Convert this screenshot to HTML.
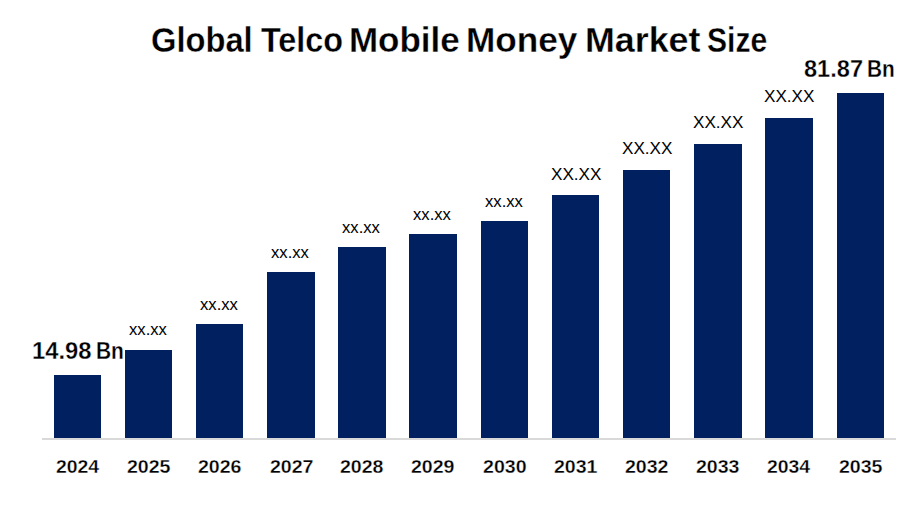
<!DOCTYPE html>
<html><head><meta charset="utf-8"><style>
html,body{margin:0;padding:0;background:#fff;}
body{width:900px;height:525px;position:relative;overflow:hidden;font-family:"Liberation Sans",sans-serif;color:#000;}
.t{position:absolute;white-space:nowrap;line-height:1;transform-origin:0 0;}
.b{font-weight:700;-webkit-text-stroke:0.3px #fff;}
.bar{position:absolute;background:#002060;}
.axis{position:absolute;left:42px;top:438px;width:854px;height:2px;background:#d9d9d9;}
</style></head><body>
<div class="axis"></div>
<div class="bar" style="left:54px;top:375px;width:47px;height:63px"></div>
<div class="bar" style="left:125px;top:350px;width:47px;height:88px"></div>
<div class="bar" style="left:196px;top:324px;width:47px;height:114px"></div>
<div class="bar" style="left:267px;top:272px;width:48px;height:166px"></div>
<div class="bar" style="left:338px;top:247px;width:48px;height:191px"></div>
<div class="bar" style="left:409px;top:234px;width:48px;height:204px"></div>
<div class="bar" style="left:481px;top:221px;width:47px;height:217px"></div>
<div class="bar" style="left:552px;top:195px;width:47px;height:243px"></div>
<div class="bar" style="left:623px;top:170px;width:47px;height:268px"></div>
<div class="bar" style="left:694px;top:144px;width:48px;height:294px"></div>
<div class="bar" style="left:765px;top:118px;width:48px;height:320px"></div>
<div class="bar" style="left:837px;top:93px;width:47px;height:345px"></div>
<div class="t" id="lbl1" style="left:128.86px;top:321.72px;font-size:16.90px;transform:scaleX(0.9851)">xx.xx</div>
<div class="t" id="lbl2" style="left:199.96px;top:296.67px;font-size:16.90px;transform:scaleX(0.9851)">xx.xx</div>
<div class="t" id="lbl3" style="left:271.06px;top:244.67px;font-size:16.90px;transform:scaleX(0.9851)">xx.xx</div>
<div class="t" id="lbl4" style="left:342.12px;top:219.67px;font-size:16.90px;transform:scaleX(0.9851)">xx.xx</div>
<div class="t" id="lbl5" style="left:413.23px;top:206.67px;font-size:16.90px;transform:scaleX(0.9851)">xx.xx</div>
<div class="t" id="lbl6" style="left:485.32px;top:193.67px;font-size:16.90px;transform:scaleX(0.9851)">xx.xx</div>
<div class="t" id="lbl7" style="left:550.85px;top:165.87px;font-size:17.10px;transform:scaleX(1.0017)">XX.XX</div>
<div class="t" id="lbl8" style="left:621.88px;top:139.87px;font-size:17.10px;transform:scaleX(1.0017)">XX.XX</div>
<div class="t" id="lbl9" style="left:692.94px;top:113.87px;font-size:17.10px;transform:scaleX(1.0017)">XX.XX</div>
<div class="t" id="lbl10" style="left:764.02px;top:87.87px;font-size:17.10px;transform:scaleX(1.0017)">XX.XX</div>
<div class="t b" id="y0" style="left:55.55px;top:456.75px;font-size:19.10px;transform:scaleX(1.0160)">2024</div>
<div class="t b" id="y1" style="left:126.61px;top:456.75px;font-size:19.10px;transform:scaleX(1.0240)">2025</div>
<div class="t b" id="y2" style="left:197.72px;top:456.75px;font-size:19.10px;transform:scaleX(1.0240)">2026</div>
<div class="t b" id="y3" style="left:269.78px;top:456.75px;font-size:19.10px;transform:scaleX(1.0240)">2027</div>
<div class="t b" id="y4" style="left:340.10px;top:456.75px;font-size:19.10px;transform:scaleX(1.0240)">2028</div>
<div class="t b" id="y5" style="left:411.17px;top:456.75px;font-size:19.10px;transform:scaleX(1.0240)">2029</div>
<div class="t b" id="y6" style="left:483.02px;top:456.75px;font-size:19.10px;transform:scaleX(1.0252)">2030</div>
<div class="t b" id="y7" style="left:554.12px;top:456.75px;font-size:19.10px;transform:scaleX(1.0240)">2031</div>
<div class="t b" id="y8" style="left:625.18px;top:456.75px;font-size:19.10px;transform:scaleX(1.0240)">2032</div>
<div class="t b" id="y9" style="left:696.30px;top:456.75px;font-size:19.10px;transform:scaleX(1.0240)">2033</div>
<div class="t b" id="y10" style="left:767.36px;top:456.75px;font-size:19.10px;transform:scaleX(1.0160)">2034</div>
<div class="t b" id="y11" style="left:838.63px;top:456.75px;font-size:19.10px;transform:scaleX(1.0240)">2035</div>
<div class="t b" id="tw0" style="left:151.02px;top:22.75px;font-size:34.50px;transform:scaleX(0.9475)">Global</div>
<div class="t b" id="tw1" style="left:261.30px;top:22.75px;font-size:34.50px;transform:scaleX(0.9371)">Telco</div>
<div class="t b" id="tw2" style="left:348.63px;top:22.75px;font-size:34.50px;transform:scaleX(1.0133)">Mobile</div>
<div class="t b" id="tw3" style="left:466.37px;top:22.75px;font-size:34.50px;transform:scaleX(1.0199)">Money</div>
<div class="t b" id="tw4" style="left:584.96px;top:22.75px;font-size:34.50px;transform:scaleX(1.0376)">Market</div>
<div class="t b" id="tw5" style="left:706.53px;top:22.75px;font-size:34.50px;transform:scaleX(0.8715)">Size</div>
<div class="t b" id="v0a" style="left:32.42px;top:340.20px;font-size:23.25px;transform:scaleX(1.0248)">14.98</div>
<div class="t b" id="v0b" style="left:95.70px;top:340.20px;font-size:23.25px;transform:scaleX(0.9006)">Bn</div>
<div class="t b" id="v11a" style="left:803.70px;top:57.80px;font-size:23.25px;transform:scaleX(1.0144)">81.87</div>
<div class="t b" id="v11b" style="left:866.79px;top:57.80px;font-size:23.25px;transform:scaleX(0.8948)">Bn</div>
</body></html>
